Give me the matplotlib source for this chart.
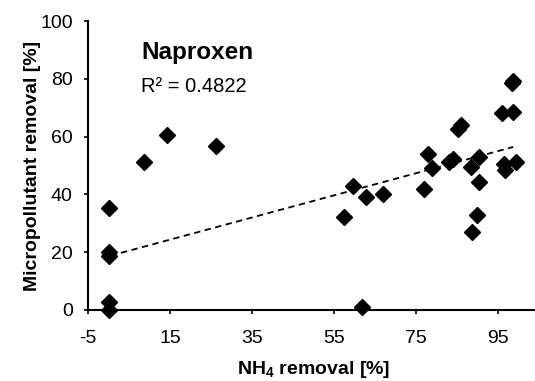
import numpy as np
import matplotlib
matplotlib.use("Agg")
import matplotlib.pyplot as plt

plt.rcParams["font.family"] = ["Liberation Sans", "DejaVu Sans"]
plt.rcParams["mathtext.fontset"] = "custom"
plt.rcParams["mathtext.rm"] = "Liberation Sans"
plt.rcParams["mathtext.bf"] = "Liberation Sans:bold"
plt.rcParams["axes.unicode_minus"] = False

# NH4 removal [%] vs micropollutant (naproxen) removal [%]
nh4_removal = [0, 0, 0, 0, 0, 8.7, 14.2, 26.2,
               57.5, 59.6, 62.8, 67.0, 61.8, 77.0, 78.0, 79.0, 83.0, 84.1,
               85.3, 86.0, 88.3, 90.4, 90.4, 89.8, 88.6, 95.9, 98.7, 98.5,
               98.6, 96.5, 96.7, 99.4]
mp_removal = [35.4, 19.9, 18.6, 2.9, 0, 51.3, 60.5, 56.7,
              32.3, 42.9, 39.2, 40.1, 1.1, 41.9, 54.0, 49.3, 51.3, 52.2,
              62.5, 64.0, 49.4, 52.8, 44.4, 32.9, 27.1, 68.3, 68.6, 78.6,
              79.4, 50.5, 48.4, 51.1]
# linear trendline as shown on the chart
trend_slope = 0.383
trend_intercept = 18.6
r2_text = "R\u00b2 = 0.4822"
compound = "Naproxen"

x = np.array(nh4_removal)
y = np.array(mp_removal)
x_fit = np.array([x.min() + 0.5, x.max() - 0.7])

fig = plt.figure(figsize=(5.35, 3.81), dpi=100)
ax = fig.add_axes([88 / 535, 71 / 381, 451 / 535, 289 / 381])

ax.plot(x_fit, trend_slope * x_fit + trend_intercept, color="black",
        linestyle=(0, (3.5, 2.5)), linewidth=1.3, zorder=2)
ax.plot(x, y, linestyle="none", marker="D", markersize=8, color="black",
        clip_on=False, zorder=3)

ax.set_xlim(-5, 105)
ax.set_ylim(0, 100)
ax.set_xticks([-5, 15, 35, 55, 75, 95])
ax.set_yticks([0, 20, 40, 60, 80, 100])
ax.spines["top"].set_visible(False)
ax.spines["right"].set_visible(False)
for side in ("left", "bottom"):
    ax.spines[side].set_linewidth(1.5)
ax.tick_params(direction="out", length=3, width=1.2, labelsize=14)
ax.tick_params(axis="y", pad=8)
ax.tick_params(axis="x", pad=11.5)

ax.set_xlabel(r"NH$_\mathbf{4}$ removal [%]", fontsize=14, fontweight="bold",
              labelpad=8.5)
ax.set_ylabel("Micropollutant removal [%]", fontsize=14, fontweight="bold",
              labelpad=-1)

fig.text(141 / 535, 1 - 52 / 381, compound, fontsize=17.5,
         fontweight="bold", va="center", ha="left")
fig.text(141 / 535, 1 - 87 / 381, r2_text, fontsize=14.5,
         va="center", ha="left")

fig.savefig("out.png", dpi=100)
